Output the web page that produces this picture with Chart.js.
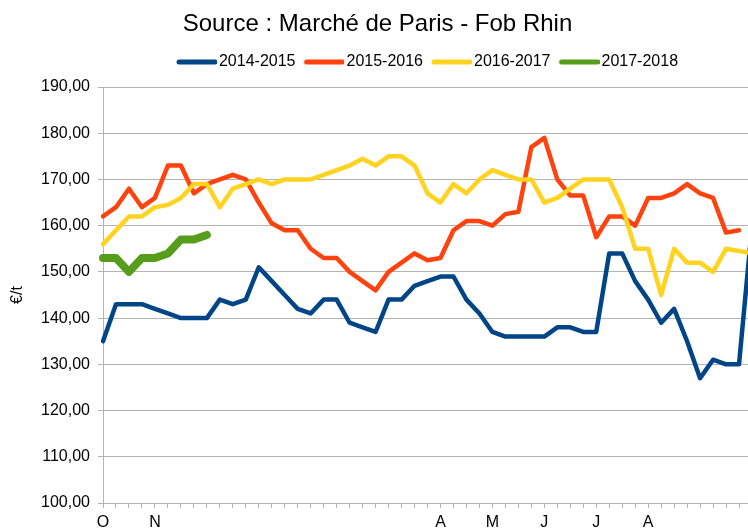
<!DOCTYPE html>
<html>
<head>
<meta charset="utf-8">
<script src="https://cdn.jsdelivr.net/npm/chart.js@4.4.1/dist/chart.umd.min.js"></script>
<style>
html,body{margin:0;padding:0;overflow:hidden;background:#ffffff;width:748px;height:532px}
#wrap{position:absolute;left:0;top:0;width:757px;height:532px}
</style>
</head>
<body>
<div id="wrap"><canvas id="c" width="757" height="532"></canvas></div>
<script>
const titleText = 'Source : Marché de Paris - Fob Rhin';
const yAxisTitle = '€/t';
const seriesNames = ['2014-2015', '2015-2016', '2016-2017', '2017-2018'];

// weekly categories, month initials where the axis shows them
const categories = [
  'O', '', '', '', 'N', '', '', '', '', '',
  '', '', '', '', '', '', '', '', '', '',
  '', '', '', '', '', '', 'A', '', '', '',
  'M', '', '', '', 'J', '', '', '', 'J', '',
  '', '', 'A', '', '', '', '', '', '', '',
  ''
];

const values2014 = [135, 143, 143, 143, 142, 141, 140, 140, 140, 144,
  143, 144, 151, 148, 145, 142, 141, 144, 144, 139,
  138, 137, 144, 144, 147, 148, 149, 149, 144, 141,
  137, 136, 136, 136, 136, 138, 138, 137, 137, 154,
  154, 148, 144, 139, 142, 135, 127, 131, 130, 130,
  160];
const values2015 = [162, 164, 168, 164, 166, 173, 173, 167, 169, 170,
  171, 170, 165, 160.5, 159, 159, 155, 153, 153, 150,
  148, 146, 150, 152, 154, 152.5, 153, 159, 161, 161,
  160, 162.5, 163, 177, 179, 170, 166.5, 166.5, 157.5, 162,
  162, 160, 166, 166, 167, 169, 167, 166, 158.5, 159];
const values2016 = [156, 159, 162, 162, 164, 164.5, 166, 169, 169, 164,
  168, 169, 170, 169, 170, 170, 170, 171, 172, 173,
  174.5, 173, 175, 175, 173, 167, 165, 169, 167, 170,
  172, 171, 170, 170, 165, 166, 168, 170, 170, 170,
  164, 155, 155, 145, 155, 152, 152, 150, 155, 154.5,
  154];
const values2017 = [153, 153, 150, 153, 153, 154, 157, 157, 158];

const yMin = 100, yMax = 190, yStep = 10;

const seriesColors = ['#004586', '#ff420e', '#ffd320', '#579d1c'];
const seriesWidths = [4.5, 4.5, 4.5, 8];
const seriesOrder = [3, 2, 1, 0];
const FONT = "'Liberation Sans', Arial, sans-serif";

const allValues = [values2014, values2015, values2016, values2017];

const datasets = allValues.map((vals, k) => ({
  label: seriesNames[k],
  data: vals,
  borderColor: seriesColors[k],
  backgroundColor: seriesColors[k],
  borderWidth: seriesWidths[k],
  pointRadius: 0,
  pointHoverRadius: 0,
  tension: 0,
  fill: false,
  borderJoinStyle: 'round',
  borderCapStyle: 'round',
  order: seriesOrder[k]
}));

// legend line sample: a short thick line drawn on a small canvas
function legendSwatch(color) {
  const cv = document.createElement('canvas');
  cv.width = 46; cv.height = 6;
  const g = cv.getContext('2d');
  g.fillStyle = color;
  g.beginPath();
  g.moveTo(8, 0.5); g.lineTo(44, 0.5);
  g.arc(44, 3, 2.5, -Math.PI / 2, Math.PI / 2);
  g.lineTo(8, 5.5);
  g.arc(8, 3, 2.5, Math.PI / 2, Math.PI * 1.5);
  g.fill();
  return cv;
}
const swatches = seriesColors.map(legendSwatch);

// small empty layout box that keeps a gap between the legend and the plot
const legendGap = {
  id: 'legendGap',
  beforeInit(chart) {
    const box = {
      position: 'top', weight: 100, fullSize: false,
      options: {},
      left: 0, top: 0, right: 0, bottom: 0, width: 0, height: 0,
      update(maxWidth) { this.width = maxWidth; this.height = 7; },
      isHorizontal() { return true; },
      getPadding() { return { left: 0, right: 0, top: 0, bottom: 0 }; },
      draw() {}
    };
    Chart.layouts.addBox(chart, box);
  }
};

new Chart(document.getElementById('c'), {
  type: 'line',
  data: { labels: categories, datasets: datasets },
  plugins: [legendGap],
  options: {
    responsive: false,
    animation: false,
    devicePixelRatio: 1,
    layout: { padding: { left: 0, right: 2, top: 0, bottom: 0 } },
    plugins: {
      tooltip: { enabled: false },
      title: {
        display: true,
        text: titleText,
        color: '#000000',
        font: { family: FONT, size: 24, weight: 'normal' },
        padding: { top: 9.6, bottom: 6.6 }
      },
      legend: {
        display: true,
        position: 'top',
        fullSize: false,
        labels: {
          usePointStyle: true,
          pointStyleWidth: 34,
          boxWidth: 34,
          boxHeight: 16,
          padding: 9,
          color: '#000000',
          font: { family: FONT, size: 16 },
          generateLabels: (chart) => chart.data.datasets.map((ds, i) => ({
            text: ds.label,
            fillStyle: ds.borderColor,
            strokeStyle: 'rgba(0,0,0,0)',
            lineWidth: 0,
            pointStyle: swatches[i],
            hidden: false,
            datasetIndex: i
          }))
        }
      }
    },
    scales: {
      x: {
        type: 'category',
        offset: false,
        ticks: {
          autoSkip: false, maxRotation: 0, minRotation: 0,
          color: '#000000', font: { family: FONT, size: 16 }, padding: 5
        },
        grid: { drawOnChartArea: false, drawTicks: true, tickLength: 5, color: '#b3b3b3' },
        border: { color: '#b3b3b3' },
        afterFit: (s) => { s.height = 29; }
      },
      y: {
        min: yMin, max: yMax,
        ticks: {
          stepSize: yStep,
          color: '#000000', font: { family: FONT, size: 16 }, padding: 8,
          callback: (v) => Number(v).toFixed(2).replace('.', ',')
        },
        grid: { color: '#b3b3b3', tickLength: 5, lineWidth: 1 },
        border: { color: '#b3b3b3' },
        title: {
          display: true, text: yAxisTitle, color: '#000000',
          font: { family: FONT, size: 16 }, padding: { top: 8, bottom: 0 }
        },
        afterFit: (s) => { s.width = 103; }
      }
    }
  }
});
</script>
</body>
</html>
